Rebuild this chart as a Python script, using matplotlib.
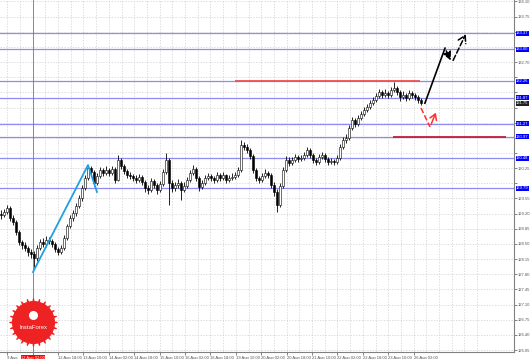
import matplotlib
matplotlib.use("Agg")
import matplotlib.pyplot as plt
import matplotlib.transforms as mtransforms
import numpy as np

plt.rcParams["font.family"] = ["Liberation Sans", "DejaVu Sans"]

# H1-ish candles (open = previous close)
first_open = 129.20
closes = [129.17, 129.24, 129.33, 129.10, 129.01, 128.77, 128.54, 128.47, 128.40, 128.31,
          128.27, 128.17, 128.40, 128.54, 128.50, 128.59, 128.57, 128.50, 128.38, 128.31,
          128.40, 128.64, 128.91, 129.10, 129.21, 129.38, 129.56, 129.79, 130.02, 130.25,
          130.16, 129.91, 130.07, 130.21, 130.14, 130.21, 130.14, 130.23, 129.98, 130.44,
          130.30, 130.18, 130.09, 130.07, 130.02, 129.98, 130.05, 129.93, 129.79, 129.75,
          129.95, 129.86, 129.75, 129.88, 130.16, 130.44, 129.91, 129.79, 129.86, 129.91,
          129.75, 129.84, 129.98, 130.14, 130.23, 130.02, 129.81, 129.91, 130.02, 130.07,
          130.02, 129.98, 130.09, 130.02, 130.09, 129.98, 130.02, 130.05, 130.09, 130.21,
          130.78, 130.74, 130.67, 130.53, 130.21, 130.02, 129.98, 130.07, 130.14, 130.09,
          129.86, 129.70, 129.40, 129.84, 130.21, 130.44, 130.37, 130.44, 130.51, 130.46,
          130.48, 130.55, 130.67, 130.55, 130.44, 130.39, 130.51, 130.55, 130.46, 130.39,
          130.42, 130.39, 130.48, 130.74, 130.90, 130.95, 131.18, 131.36, 131.27, 131.41,
          131.50, 131.59, 131.66, 131.75, 131.82, 131.92, 132.01, 131.94, 131.99, 131.94,
          132.05, 132.10, 132.01, 131.89, 131.94, 131.87, 131.99, 131.94, 131.89, 131.82,
          131.75]
highs = [129.28, 129.31, 129.40, 129.37, 129.16, 129.05, 128.82, 128.60, 128.55, 128.46,
         128.38, 128.33, 128.47, 128.62, 128.63, 128.68, 128.66, 128.62, 128.54, 128.42,
         128.47, 128.70, 128.97, 129.17, 129.29, 129.45, 129.63, 129.86, 130.10, 130.32,
         130.30, 130.20, 130.14, 130.28, 130.26, 130.30, 130.25, 130.31, 130.27, 130.55,
         130.48, 130.34, 130.23, 130.15, 130.12, 130.09, 130.12, 130.09, 129.98, 129.85,
         130.02, 130.00, 129.91, 129.96, 130.22, 130.60, 130.48, 129.97, 129.93, 129.99,
         129.95, 129.92, 130.05, 130.21, 130.32, 130.27, 130.06, 129.98, 130.09, 130.14,
         130.12, 130.08, 130.16, 130.13, 130.17, 130.12, 130.10, 130.13, 130.16, 130.28,
         130.90, 130.85, 130.80, 130.72, 130.57, 130.26, 130.08, 130.14, 130.22, 130.19,
         130.13, 129.92, 129.76, 129.90, 130.28, 130.52, 130.50, 130.51, 130.58, 130.56,
         130.55, 130.62, 130.74, 130.71, 130.59, 130.49, 130.58, 130.63, 130.60, 130.50,
         130.49, 130.47, 130.55, 130.80, 130.97, 131.04, 131.25, 131.43, 131.40, 131.48,
         131.57, 131.66, 131.73, 131.82, 131.90, 131.99, 132.08, 132.06, 132.07, 132.04,
         132.12, 132.24, 132.14, 132.05, 132.02, 131.99, 132.06, 132.04, 131.99, 131.94,
         131.87]
lows = [129.08, 129.12, 129.19, 129.04, 128.93, 128.70, 128.48, 128.38, 128.33, 128.22,
        128.18, 127.97, 128.10, 128.35, 128.42, 128.44, 128.49, 128.43, 128.31, 128.24,
        128.26, 128.36, 128.60, 128.86, 129.03, 129.15, 129.33, 129.50, 129.74, 129.97,
        130.08, 129.84, 129.86, 130.02, 130.06, 130.10, 130.07, 130.09, 129.90, 129.95,
        130.24, 130.11, 130.02, 129.99, 129.95, 129.90, 129.93, 129.86, 129.70, 129.66,
        129.71, 129.79, 129.66, 129.70, 129.84, 130.12, 129.40, 129.70, 129.72, 129.80,
        129.51, 129.69, 129.80, 129.93, 130.10, 129.95, 129.73, 129.76, 129.86, 129.97,
        129.95, 129.91, 129.93, 129.96, 129.97, 129.91, 129.93, 129.97, 129.99, 130.04,
        130.17, 130.66, 130.60, 130.46, 130.14, 129.95, 129.90, 129.93, 130.02, 130.03,
        129.79, 129.60, 129.24, 129.35, 129.80, 130.16, 130.30, 130.32, 130.39, 130.40,
        130.41, 130.43, 130.50, 130.48, 130.37, 130.32, 130.35, 130.46, 130.40, 130.32,
        130.34, 130.33, 130.35, 130.44, 130.69, 130.84, 130.90, 131.12, 131.19, 131.22,
        131.36, 131.45, 131.54, 131.61, 131.70, 131.77, 131.87, 131.87, 131.89, 131.86,
        131.90, 132.00, 131.94, 131.80, 131.84, 131.80, 131.83, 131.87, 131.82, 131.76,
        131.70]

# price scale labels on the right
price_ticks = [126.05, 126.40, 126.75, 127.10, 127.45, 127.80, 128.15, 128.50, 128.85,
               129.20, 129.55, 129.90, 130.25, 130.60, 130.95, 131.30, 131.65, 132.00,
               132.35, 132.70, 133.05, 133.40, 133.75, 134.10]
# support / resistance levels (blue)
levels = [133.37, 133.00, 132.26, 131.87, 131.27, 130.97, 130.48, 129.79]

time_labels = ["9 Aug", "12 Aug 02:00", "12 Aug 18:00", "13 Aug 10:00", "14 Aug 02:00",
               "14 Aug 18:00", "15 Aug 10:00", "16 Aug 02:00", "16 Aug 18:00", "19 Aug 10:00",
               "20 Aug 02:00", "20 Aug 18:00", "21 Aug 10:00", "22 Aug 02:00", "22 Aug 18:00",
               "23 Aug 10:00", "26 Aug 02:00"]

# drawn objects (bar index, price)
impulse_x = [10.67, 29.0, 32.0]
impulse_y = [127.85, 130.32, 129.70]
red_res = (78.0, 139.7, 132.26)
red_sup = (130.7, 168.5, 130.97)
vline_x = 10.67

closes = np.array(closes)
highs = np.array(highs)
lows = np.array(lows)
opens = np.concatenate([[first_open], closes[:-1]])
idx = np.arange(len(closes))

FS = 3.0

fig = plt.figure(figsize=(5.31, 3.59), dpi=100)
ax = fig.add_axes([0, 7 / 359, 514 / 531, 352 / 359])

ax.set_ylim(126.004, 134.133)
ax.set_xlim(-0.33, 171.0)

# price scale; labels hidden under the level boxes are left blank
boxed = levels + [closes[-1]]
ax.set_yticks(price_ticks)
ax.set_yticklabels(["" if min(abs(p - b) for b in boxed) < 0.17 else f"{p:.2f}" for p in price_ticks])
ax.yaxis.tick_right()
ax.tick_params(axis="y", labelsize=FS, length=2, width=0.5, colors="#555555", pad=0.8)
ax.grid(axis="y", color="#d0d0d0", linestyle=(0, (2, 2)), linewidth=0.5)

step = 25.4 / 3
tick_pos = [2.1 + k * step for k in range(len(time_labels))]
for k in range(-1, 2 * len(time_labels) + 4):
    ax.axvline(2.1 + k * step / 2, color="#d0d0d0", linestyle=(0, (2, 2)), linewidth=0.5, zorder=0)
ax.set_xticks(tick_pos)
ax.set_xticklabels([t if i != 1 else "" for i, t in enumerate(time_labels)], ha="left")
ax.tick_params(axis="x", labelsize=FS, length=2, width=0.5, colors="#555555", pad=1)

for s in ["top", "left"]:
    ax.spines[s].set_visible(False)
for s in ["right", "bottom"]:
    ax.spines[s].set_color("#808080")
    ax.spines[s].set_linewidth(0.8)

ytrans = mtransforms.blended_transform_factory(ax.transAxes, ax.transData)

# levels
for lv in levels:
    ax.axhline(lv, color="#8c8cf2", linewidth=0.9, zorder=1)
    ax.text(1.004, lv, f"{lv:.2f}", transform=ytrans,
            fontsize=FS, color="white", va="center", ha="left", clip_on=False,
            bbox=dict(boxstyle="square,pad=0.12", facecolor="#0000ff", edgecolor="none"))
ax.text(1.004, closes[-1], f"{closes[-1]:.2f}", transform=ytrans,
        fontsize=FS, color="white", va="center", ha="left", clip_on=False,
        bbox=dict(boxstyle="square,pad=0.12", facecolor="#202020", edgecolor="none"))

# red lines
ax.hlines(red_res[2], red_res[0], red_res[1], color="#f05050", linewidth=1.3, zorder=3)
ax.hlines(red_sup[2], red_sup[0], red_sup[1], color="#c0203a", linewidth=1.3, zorder=3)
ax.axvline(vline_x, color="#ff4040", linewidth=0.6, zorder=2)

# candles
ax.vlines(idx, lows, highs, color="black", linewidth=0.6, zorder=4)
up = closes >= opens
body = np.where(np.abs(closes - opens) < 0.01, 0.01, closes - opens)
ax.bar(idx, body, bottom=opens, width=0.65, color=np.where(up, "white", "black"),
       edgecolor="black", linewidth=0.4, zorder=5)

# impulse line
ax.plot(impulse_x, impulse_y, color="#1ea0e6", linewidth=1.3, zorder=6)

# scenario arrows
ax.plot([141.3, 148.0], [131.75, 133.02], color="black", linewidth=1.2, zorder=6)
ax.annotate("", xy=(150.3, 132.68), xytext=(148.0, 133.02),
            arrowprops=dict(arrowstyle="-|>,head_length=0.5,head_width=0.25", color="black",
                            linestyle="--", linewidth=1.0))
ax.annotate("", xy=(155.3, 133.40), xytext=(150.3, 132.68),
            arrowprops=dict(arrowstyle="->,head_length=0.5,head_width=0.3", color="black",
                            linestyle="--", linewidth=1.1))
ax.plot([140.0, 143.0], [131.64, 131.20], color="#ff3030", linewidth=1.1, linestyle="--", zorder=6)
ax.annotate("", xy=(145.3, 131.59), xytext=(143.0, 131.20),
            arrowprops=dict(arrowstyle="->,head_length=0.4,head_width=0.25", color="#ff3030",
                            linewidth=1.1))

# logo
ax.scatter([10.67], [126.70], s=1150, marker=(24, 1, 0), color="#ee2222", zorder=7, clip_on=False)
ax.scatter([10.67], [126.70], s=900, marker="o", color="#ee2222", zorder=7, clip_on=False)
ax.scatter([10.67], [126.87], s=30, marker="o", color="white", zorder=8)
ax.text(10.67, 126.58, "InstaForex", fontsize=4.2, color="white", ha="center", va="center", zorder=8)

# time label of the vertical line
ax.text(vline_x, -0.01, time_labels[1], transform=mtransforms.blended_transform_factory(ax.transData, ax.transAxes),
        fontsize=FS, color="white", ha="center", va="top", clip_on=False,
        bbox=dict(boxstyle="square,pad=0.12", facecolor="#ff0000", edgecolor="none"))

fig.savefig("out.png", dpi=100)
